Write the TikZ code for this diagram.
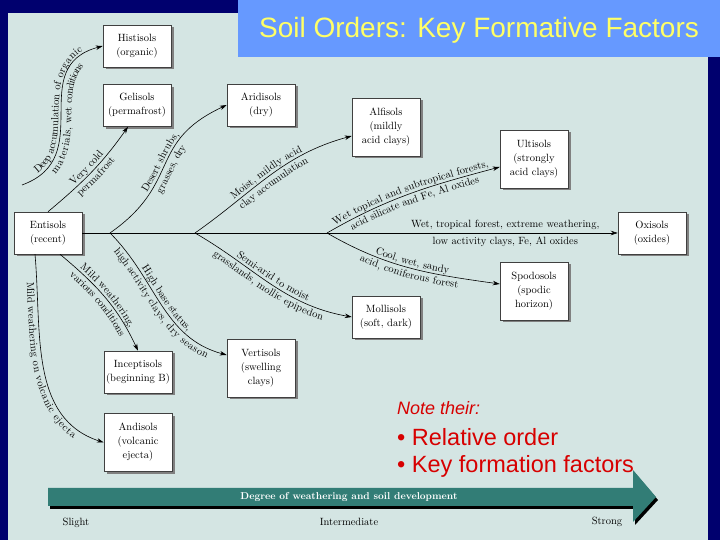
\documentclass[tikz,border=0pt]{standalone}
\usepackage{fontspec}
\newfontfamily\arialfont{Liberation Sans}
\usetikzlibrary{positioning}
\usetikzlibrary{shadows}
\usetikzlibrary{decorations.text}
\usetikzlibrary{arrows.meta}

\definecolor{navy}{RGB}{0,0,110}
\definecolor{panel}{RGB}{212,229,227}
\definecolor{titlebar}{RGB}{102,153,255}
\definecolor{titletext}{RGB}{255,255,102}
\definecolor{notered}{RGB}{215,0,0}
\definecolor{barteal}{RGB}{50,125,118}
\newcommand\lblfont{\fontsize{10.5}{12}\selectfont}

\begin{document}
\begin{tikzpicture}[x=1pt,y=1pt,
        soil/.style={draw=black!75,fill=white,line width=.5pt,align=center,
            font=\fontsize{10.5}{14}\selectfont,minimum width=68pt,minimum height=42pt,
            inner sep=2pt,drop shadow={shadow xshift=2.5pt,shadow yshift=-2.5pt,fill=black!50,opacity=1}},
        tall/.style={minimum height=58pt},
        conn/.style={-{Stealth[length=7pt,width=4.5pt]},line width=.6pt},
        labup/.style={postaction={decorate,decoration={text along path,text align=center,
            raise=3pt,text={|\lblfont|#1}}}},
        labdown/.style={postaction={decorate,decoration={text along path,text align=center,
            raise=-10pt,text={|\lblfont|#1}}}},
        notetext/.style={anchor=west,inner sep=0pt,text=notered,font=\arialfont\fontsize{23.5}{28}\selectfont}]
    \useasboundingbox (0,0) rectangle (720,540);
    \fill[navy] (0,0) rectangle (720,540);
    \fill[panel] (8,0) rectangle (708,527);
    \fill[titlebar] (238,483) rectangle (720,540);
    \node[text=titletext,font=\arialfont\fontsize{28}{32}\selectfont] (title) at (479,510)
        {Soil Orders: Key Formative Factors};

    % the soil orders
    \node[soil] (ent) at (48,307) {Entisols\\(recent)};
    \node[soil] (hist) at (137,494) {Histisols\\(organic)};
    \node[soil,below=17pt of hist] (gel) {Gelisols\\(permafrost)};
    \node[soil] (ari) at (261,435) {Aridisols\\(dry)};
    \node[soil,tall] (alf) at (386,413) {Alfisols\\(mildly\\acid clays)};
    \node[soil,tall] (ult) at (534,381) {Ultisols\\(strongly\\acid clays)};
    \node[soil] (oxi) at (652,307) {Oxisols\\(oxides)};
    \node[soil,tall] (spo) at (534,249) {Spodosols\\(spodic\\horizon)};
    \node[soil] (mol) at (386,223) {Mollisols\\(soft, dark)};
    \node[soil,tall] (ver) at (261,172) {Vertisols\\(swelling\\clays)};
    \node[soil] (inc) at (138,168) {Inceptisols\\(beginning B)};
    \node[soil,tall,below=20pt of inc] (and) {Andisols\\(volcanic\\ejecta)};

    % trunk and its branch points
    \draw[conn] (ent) -- (oxi)
        node[pos=.79,above,font=\lblfont] (wet) {Wet, tropical forest, extreme weathering,}
        node[pos=.79,below,font=\lblfont] (low) {low activity clays, Fe, Al oxides};
    \coordinate (b1) at (110,307);
    \coordinate (b2) at (195,307);
    \coordinate (b3) at (327,307);
    \coordinate (org) at (22,355);

    \draw[conn,labup={Deep accumulation of organic},labdown={materials, wet conditions}]
        (org) to[out=20,in=195,looseness=1.3] (hist.west);
    \draw[conn,labup={Very cold},labdown={permafrost}]
        (ent.north) to[out=40,in=235] ([xshift=-9pt]gel.south);
    \draw[conn,labup={Desert shrubs,},labdown={grasses, dry}]
        (b1) to[out=35,in=205,looseness=1.3] (ari.west);
    \draw[conn,labup={Moist, mildly acid},labdown={clay accumulation}]
        (b2) to[out=35,in=195] ([yshift=-9pt]alf.west);
    \draw[conn,labup={Wet topical and subtropical forests,},labdown={acid silicate and Fe, Al oxides}]
        (b3) to[out=30,in=195] ([yshift=-8pt]ult.west);
    \draw[conn,labup={Cool, wet, sandy},labdown={acid, coniferous forest}]
        (b3) to[out=-30,in=172] ([yshift=7pt]spo.west);
    \draw[conn,labup={Semi-arid to moist},labdown={grasslands, mollic epipedon}]
        (b2) to[out=-30,in=170] (mol.west);
    \draw[conn,labup={High base status,},labdown={high activity clays, dry season}]
        (b1) to[out=-45,in=165] ([yshift=13pt]ver.west);
    \draw[conn,labup={Mild weathering,},labdown={various conditions}]
        ([xshift=12pt]ent.south) to[out=-40,in=115] (inc.north);
    \draw[conn,labdown={Mild weathering on volcanic ejecta}]
        ([xshift=-13pt]ent.south) to[out=-85,in=162] (and.west);

    % weathering bar
    \fill[black] (50,31) -- (635,31) -- (635,15) -- (658,40) -- (635,67) -- (635,49) -- (50,49) -- cycle;
    \fill[barteal] (48,34) -- (633,34) -- (633,18) -- (656,43) -- (633,70) -- (633,52) -- (48,52) -- cycle;
    \node[text=white,font=\fontsize{10}{12}\selectfont\bfseries] (deg) at (349,43)
        {Degree of weathering and soil development};
    \node[font=\lblfont] (slight) at (76,17) {Slight};
    \node[font=\lblfont] (inter) at (349,18) {Intermediate};
    \node[font=\lblfont] (strong) at (607,18) {Strong};

    % note
    \node[notetext,font=\arialfont\fontsize{18}{22}\selectfont\itshape] (note) at (397,132) {Note their:};
    \node[notetext] (order) at (397,103) {\textbullet\ Relative order};
    \node[notetext] (factors) at (397,74) {\textbullet\ Key formation factors};
\end{tikzpicture}
\end{document}
